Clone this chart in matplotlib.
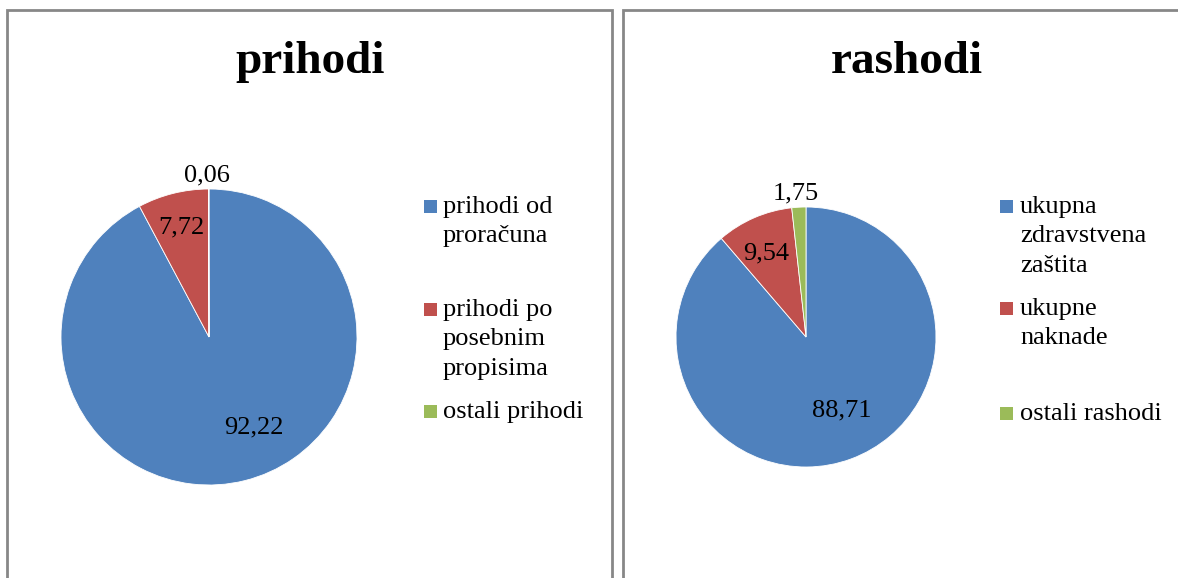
import numpy as np
import matplotlib
matplotlib.use("Agg")
import matplotlib.pyplot as plt
from matplotlib.patches import Rectangle

# ---- data ----
titles = ["prihodi", "rashodi"]
prihodi_labels = ["prihodi od\nproračuna", "prihodi po\nposebnim\npropisima", "ostali prihodi"]
prihodi_values = [92.22, 7.72, 0.06]
rashodi_labels = ["ukupna\nzdravstvena\nzaštita", "ukupne\nnaknade", "ostali rashodi"]
rashodi_values = [88.71, 9.54, 1.75]
colors = ["#4F81BD", "#C0504D", "#9BBB59"]

W, H = 1178, 578
fig = plt.figure(figsize=(W / 100, H / 100), dpi=100)
plt.rcParams['font.family'] = ['Liberation Serif', 'DejaVu Serif']

def fx(x):
    return x / W

def fy(y):
    return 1 - y / H

# panel frames
for (x0, x1) in [(7, 612), (623, 1200)]:
    fig.add_artist(Rectangle((fx(x0), fy(600)), fx(x1) - fx(x0), fy(10) - fy(600),
                             transform=fig.transFigure, fill=False,
                             edgecolor="#878787", linewidth=2, clip_on=False))

panels = [
    dict(title=titles[0], labels=prihodi_labels, values=prihodi_values,
         cx=209, cy=337, r=148, tx=310, lx_sq=424, lx_txt=443,
         sq_y=[206, 309, 411],
         lab_pos=[(0.67, -63), (0.78, 103.6), (1.11, 90.7)]),
    dict(title=titles[1], labels=rashodi_labels, values=rashodi_values,
         cx=806, cy=337, r=130, tx=907, lx_sq=1000, lx_txt=1020,
         sq_y=[206, 308, 413],
         lab_pos=[(0.61, -63), (0.73, 115), (1.125, 94)]),
]

pitch = 29.5
for p in panels:
    cx, cy, r = p["cx"], p["cy"], p["r"]
    ax = fig.add_axes([fx(cx - r), fy(cy + r), 2 * r / W, 2 * r / H])
    ax.pie(p["values"], colors=colors, startangle=90, counterclock=False,
           radius=1, wedgeprops=dict(edgecolor="white", linewidth=0.6))
    ax.set_xlim(-1, 1)
    ax.set_ylim(-1, 1)
    ax.set_aspect("equal")
    ax.axis("off")
    for v, (d, ang) in zip(p["values"], p["lab_pos"]):
        a = np.deg2rad(ang)
        ax.text(d * np.cos(a), d * np.sin(a), f"{v:.2f}".replace(".", ","),
                ha="center", va="center_baseline", fontsize=19, clip_on=False)
    fig.text(fx(p["tx"]), fy(62), p["title"], ha="center", va="center",
             fontsize=34, fontweight="bold")
    for lab, col, sy in zip(p["labels"], colors, p["sq_y"]):
        fig.add_artist(Rectangle((fx(p["lx_sq"]), fy(sy + 6.5)), 13 / W, 13 / H,
                                 transform=fig.transFigure, facecolor=col,
                                 edgecolor="none"))
        for i, line in enumerate(lab.split("\n")):
            fig.text(fx(p["lx_txt"]), fy(sy + 7 + i * pitch), line,
                     ha="left", va="baseline", fontsize=19)

fig.savefig("out.png", dpi=100)
